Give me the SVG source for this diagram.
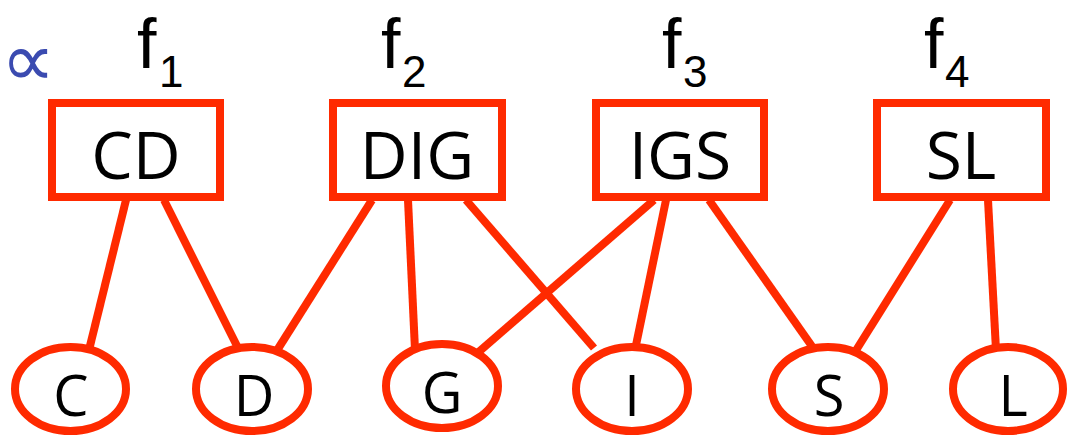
<svg xmlns="http://www.w3.org/2000/svg" width="1080" height="435" viewBox="0 0 1080 435">
  <style>
    .edge { stroke: #ff2a00; stroke-width: 8; stroke-linecap: butt; fill: none; }
    .factor rect { fill: #ffffff; stroke: #ff2a00; stroke-width: 8; }
    .var ellipse { fill: #ffffff; stroke: #ff2a00; stroke-width: 8; }
    .lbl { font-family: "Open Sans", "Liberation Sans", sans-serif; fill: #000000; text-anchor: middle; }
    .box-lbl { font-size: 66px; }
    .var-lbl { font-size: 56px; }
    .f { font-family: "Liberation Sans", Arial, sans-serif; font-size: 70px; fill: #000000; }
    .sub { font-family: "Liberation Sans", Arial, sans-serif; font-size: 44px; fill: #000000; }
  </style>
  <rect width="1080" height="435" fill="#ffffff"/>

  <!-- handwritten proportionality sign -->
  <text x="1" y="86" font-family="DejaVu Sans, sans-serif" font-size="76" font-style="italic" fill="#3b4bb0">∝</text>

  <!-- factor names -->
  <g id="factor-names">
    <text class="f" x="137" y="68">f</text><text class="sub" x="159" y="87">1</text>
    <text class="f" x="381" y="68">f</text><text class="sub" x="402" y="87">2</text>
    <text class="f" x="662" y="68">f</text><text class="sub" x="683" y="87">3</text>
    <text class="f" x="924" y="68">f</text><text class="sub" x="945" y="87">4</text>
  </g>

  <!-- factor-to-variable links -->
  <g id="edges">
    <line class="edge" x1="126" y1="200" x2="89" y2="350"/>
    <line class="edge" x1="164" y1="200" x2="240" y2="352"/>
    <line class="edge" x1="372" y1="200" x2="276" y2="352"/>
    <line class="edge" x1="408" y1="200" x2="415" y2="350"/>
    <line class="edge" x1="466" y1="200" x2="594" y2="348"/>
    <line class="edge" x1="654" y1="200" x2="474" y2="356"/>
    <line class="edge" x1="666" y1="200" x2="635" y2="350"/>
    <line class="edge" x1="709" y1="200" x2="816" y2="352"/>
    <line class="edge" x1="950" y1="200" x2="855" y2="352"/>
    <line class="edge" x1="988" y1="200" x2="996" y2="350"/>
  </g>

  <!-- factors -->
  <g id="f1" class="factor">
    <rect x="52" y="103" width="168" height="94"/>
    <text class="lbl box-lbl" x="136" y="179">CD</text>
  </g>
  <g id="f2" class="factor">
    <rect x="333" y="103" width="169" height="94"/>
    <text class="lbl box-lbl" x="417" y="179">DIG</text>
  </g>
  <g id="f3" class="factor">
    <rect x="596" y="103" width="168" height="94"/>
    <text class="lbl box-lbl" x="680" y="179">IGS</text>
  </g>
  <g id="f4" class="factor">
    <rect x="877" y="103" width="169" height="94"/>
    <text class="lbl box-lbl" x="961" y="179">SL</text>
  </g>

  <!-- variables -->
  <g id="C" class="var">
    <ellipse cx="70.5" cy="389" rx="55.5" ry="42"/>
    <text class="lbl var-lbl" x="71" y="416">C</text>
  </g>
  <g id="D" class="var">
    <ellipse cx="252" cy="389" rx="56" ry="42"/>
    <text class="lbl var-lbl" x="254" y="416">D</text>
  </g>
  <g id="G" class="var">
    <ellipse cx="442" cy="386" rx="56" ry="42"/>
    <text class="lbl var-lbl" x="442" y="413">G</text>
  </g>
  <g id="I" class="var">
    <ellipse cx="632" cy="389" rx="56" ry="42"/>
    <text class="lbl var-lbl" x="632" y="416">I</text>
  </g>
  <g id="S" class="var">
    <ellipse cx="828" cy="389" rx="56" ry="42"/>
    <text class="lbl var-lbl" x="829" y="416">S</text>
  </g>
  <g id="L" class="var">
    <ellipse cx="1008" cy="389" rx="55" ry="42"/>
    <text class="lbl var-lbl" x="1013" y="416">L</text>
  </g>
</svg>
